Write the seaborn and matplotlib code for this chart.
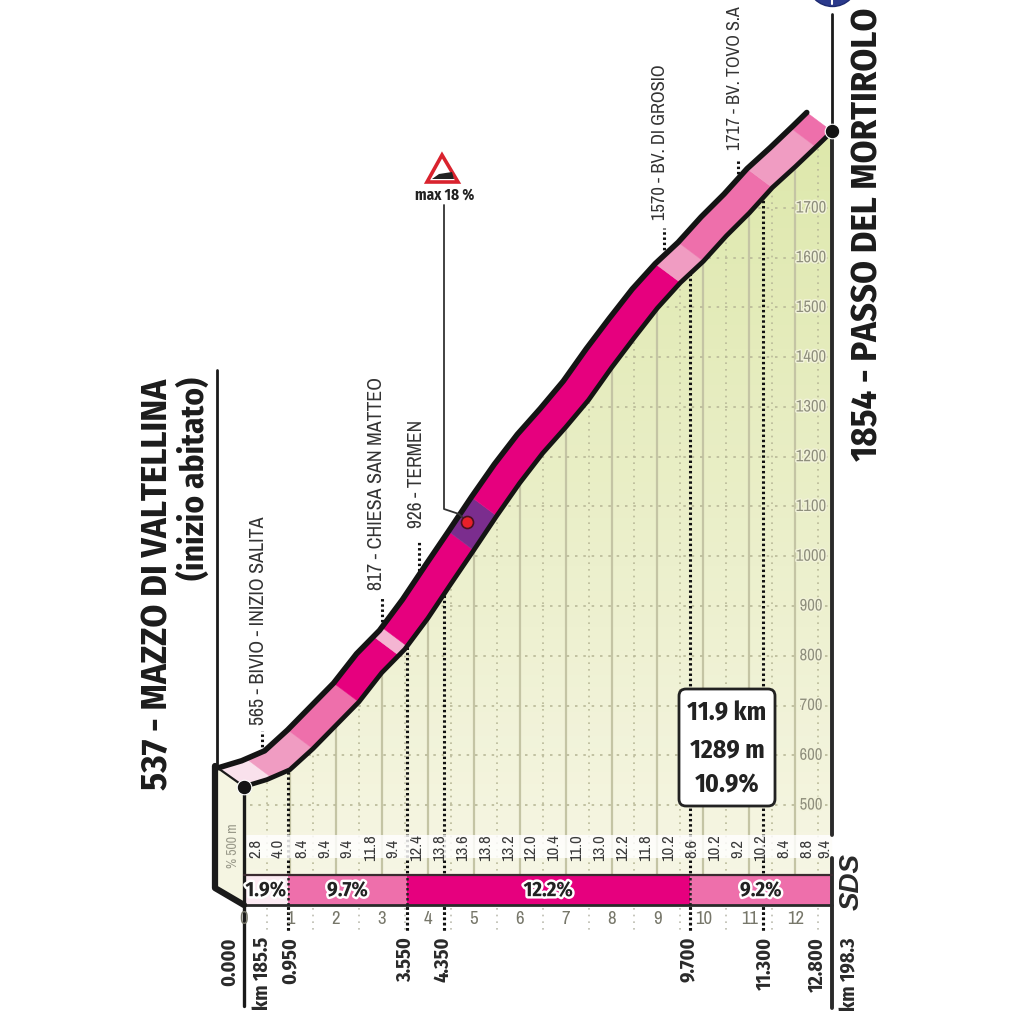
import numpy as np
import pandas as pd
import seaborn as sns
import matplotlib.pyplot as plt
import matplotlib.patheffects as pe
from matplotlib.patches import FancyBboxPatch, Polygon

# profile (km, m)
km = [0, 0.5, 1.0, 1.5, 2.0, 2.5, 3.0, 3.5, 4.0, 4.5, 5.0, 5.5, 6.0, 6.5,
      7.0, 7.5, 8.0, 8.5, 9.0, 9.5, 10.0, 10.5, 11.0, 11.5, 12.0, 12.5, 12.8]
elev = [537, 551, 571, 613, 660, 707, 766, 813, 875, 944, 1012, 1081, 1147, 1207,
        1259, 1314, 1379, 1440, 1499, 1550, 1593, 1644, 1690, 1741, 1783, 1827, 1854]
pct = [2.8, 4.0, 8.4, 9.4, 9.4, 11.8, 9.4, 12.4, 13.8, 13.6, 13.8, 13.2, 12.0,
       10.4, 11.0, 13.0, 12.2, 11.8, 10.2, 8.6, 10.2, 9.2, 10.2, 8.4, 8.8, 9.4]

# ribbon bands
band_start = [0, 0.6, 1.5, 2.5, 3.37, 3.55, 5.0, 5.5, 9.5, 10.0, 11.5, 12.45]
band_end = [0.6, 1.5, 2.5, 3.37, 3.55, 5.0, 5.5, 9.5, 10.0, 11.5, 12.45, 12.8]
band_color = ['#F9E1EC', '#F09CC2', '#EE6FAB', '#E6007E', '#F4B5D2', '#E6007E',
              '#7B2D8E', '#E6007E', '#F09CC2', '#EE6FAB', '#F09CC2', '#EE6FAB']

# gradient bar under the profile
sec_start = [0, 0.95, 3.55, 9.7]
sec_end = [0.95, 3.55, 9.7, 12.8]
sec_label = ['1.9%', '9.7%', '12.2%', '9.2%']
sec_color = ['#FBEAF2', '#EE6FAB', '#E6007E', '#EE6FAB']

# points of interest
poi_km = [0.95, 3.55, 4.35, 9.7, 11.3]
poi_name = ['565 - BIVIO - INIZIO SALITA', '817 - CHIESA SAN MATTEO', '926 - TERMEN',
            '1570 - BV. DI GROSIO', '1717 - BV. TOVO S.A']

grid_elev = list(range(500, 1800, 100))
km_ticks = list(range(0, 13))

NARROW = ['Archivo Narrow', 'Roboto Condensed', 'Liberation Sans']
BOLD = ['Fira Sans Condensed', 'Liberation Sans']
X0, PX_KM = 244, 45.94
Y500, PX_M = 805, 0.4975
DX, DE = -0.55, 38  # offset of the upper ribbon edge


def km_of(px):
    return (px - X0) / PX_KM


def el_of(py):
    return 500 + (Y500 - py) / PX_M


sns.set_theme(style='white')
plt.rcParams['font.family'] = NARROW

km = np.array(km, dtype=float)
elev = np.array(elev, dtype=float)
profile = pd.DataFrame({'km': km, 'elev': elev})
upper = pd.DataFrame({'km': km + DX, 'elev': elev + DE})

fig = plt.figure(figsize=(10.24, 10.24), dpi=100)
ax = fig.add_axes([0, 0, 1, 1])
ax.set_xlim(km_of(0), km_of(1024))
ax.set_ylim(el_of(1024), el_of(0))
ax.axis('off')

bar_top, bar_bot = el_of(875), el_of(905)

# ground under the profile, paler towards the valley
ground = Polygon(np.c_[np.r_[km, 12.8, 0], np.r_[elev, bar_bot, bar_bot]],
                 closed=True, fc='none', ec='none', transform=ax.transData)
ax.add_patch(ground)
grad = np.linspace(0, 1, 64).reshape(-1, 1)
low, high = np.array([247, 246, 230]) / 255, np.array([222, 232, 172]) / 255
img = ax.imshow(low + (high - low) * grad[..., None], origin='lower', aspect='auto',
                extent=(0, 12.8, el_of(905), 1854), zorder=1)
img.set_clip_path(ground)
ax.set_xlim(km_of(0), km_of(1024))
ax.set_ylim(el_of(1024), el_of(0))

# side of the block on the left
ax.fill([km_of(215), 0, 0, km_of(215)], [el_of(766), 537, bar_bot, el_of(888)],
        color='#F5F5E2', zorder=1)
ax.plot([km_of(215), km_of(215), 0], [el_of(766), el_of(888), bar_bot],
        color='#1a1a1a', lw=4.5, zorder=6, solid_capstyle='round')

# grid, clipped to the ground
for k in np.arange(0.5, 12.8, 0.5):
    if k == int(k):
        ln = ax.axvline(k, color='#C4C4A4', lw=1.6, zorder=2)
    else:
        ln = ax.axvline(k, color='#B9B998', lw=1.2, ls=(0, (1, 3)), zorder=2)
    ln.set_clip_path(ground)
for g in grid_elev:
    ln = ax.axhline(g, color='#B9B998', lw=1.2, ls=(0, (1.5, 3.5)), zorder=2)
    ln.set_clip_path(ground)
    ax.text(km_of(811), g, str(g), color='#8E8E7C', fontsize=12, ha='center', va='center',
            zorder=3, path_effects=[pe.withStroke(linewidth=2, foreground='#F2F3DA')])

# station dotted lines
dots = dict(color='#111111', lw=2.2, ls=(0, (0.8, 0.9)), zorder=3)
for k in poi_km:
    ax.plot([k, k], [el_of(930), np.interp(k, km, elev)], **dots)
for k, top_px in zip(poi_km, [731, 598, 540, 228, 160]):
    ax.plot([k + DX] * 2, [np.interp(k, km, elev) + DE, el_of(top_px)], **dots)

# ribbon
for a, b, c in zip(band_start, band_end, band_color):
    xs = np.r_[a, km[(km > a) & (km < b)], b]
    ys = np.interp(xs, km, elev)
    ax.fill(np.r_[xs, (xs + DX)[::-1]], np.r_[ys, (ys + DE)[::-1]], color=c, lw=0.3, zorder=4)
sns.lineplot(data=profile, x='km', y='elev', sort=False, estimator=None, color='#141414',
             lw=3.4, ax=ax, zorder=5)
sns.lineplot(data=upper, x='km', y='elev', sort=False, estimator=None,
             color='#141414', lw=4, ax=ax, zorder=5)
ax.plot([km_of(215), 0], [el_of(766), 537], color='#1a1a1a', lw=1.6, zorder=5)
ax.set_xlabel('')
ax.set_ylabel('')

# axis uprights
ax.plot([0, 0], [537, el_of(1006)], color='#1a1a1a', lw=2.4, zorder=5)
ax.plot([12.8, 12.8], [el_of(1008), el_of(858)], color='#2a2a2a', lw=2.8, zorder=5)
ax.plot([12.8, 12.8], [el_of(835), 1854], color='#2a2a2a', lw=2.8, zorder=5)
ax.plot([12.8, 12.8], [1854, el_of(14)], color='#1a1a1a', lw=2, zorder=5)
ax.plot([km_of(217), km_of(217)], [el_of(766), el_of(370)], color='#1a1a1a', lw=2, zorder=5)

# white strip with the gradient of each half km
ax.fill_between([0, 12.8], el_of(858), el_of(835), color='white', alpha=0.82, lw=0, zorder=4)
pct_pos = np.r_[np.arange(0.25, 12.5, 0.5), 12.65]
for k, p in zip(pct_pos, pct):
    ax.text(k, el_of(848), f'{p:.1f}', rotation=90, ha='center', va='center',
            fontsize=12, color='#3a3a3a', zorder=6)

# section bar
for a, b, c, lab in zip(sec_start, sec_end, sec_color, sec_label):
    ax.fill_between([a, b], bar_bot, bar_top, color=c, lw=0, zorder=4)
    ax.text((a + b) / 2, el_of(890), lab, ha='center', va='center', fontsize=15,
            family=BOLD, fontweight='bold', color='#222222', zorder=7,
            path_effects=[pe.withStroke(linewidth=3.5, foreground='white')])
ax.plot([0, 12.8], [bar_top, bar_top], color='#3a2a30', lw=1.6, zorder=5)
ax.plot([0, 12.8], [bar_bot, bar_bot], color='#2a2a2a', lw=2, zorder=5)
for k in [0.95, 3.55, 9.7]:
    ax.plot([k, k], [bar_bot, bar_top], color='#222222', lw=1.8, ls=(0, (1, 1)), zorder=5)
for k in poi_km:
    ax.plot([k, k], [el_of(930), bar_bot], **dots)

# km ticks
for k in km_ticks:
    ax.text(k, el_of(919), str(k), ha='center', va='center', fontsize=13.5,
            color='#77776a', zorder=6)
for k in np.arange(0.5, 12.8, 1.0):
    ax.plot([k, k], [el_of(908), el_of(930)], color='#bcbcb0', lw=1.2, ls=(0, (1, 3)), zorder=2)

# start and finish
sns.scatterplot(x=[0, 12.8], y=[537, 1854], s=110, color='#141414', edgecolor='white',
                lw=0.8, ax=ax, zorder=8)
ax.set_xlabel('')
ax.set_ylabel('')

# overlay in picture coordinates for the captions
ov = fig.add_axes([0, 0, 1, 1], facecolor='none')
ov.set_xlim(0, 1024)
ov.set_ylim(1024, 0)
ov.axis('off')

ov.text(157, 790, '537 - MAZZO DI VALTELLINA', rotation=90, ha='center', va='bottom',
        fontsize=26.5, family=BOLD, fontweight='bold', color='#1c1c1c')
ov.text(194, 580, '(inizio abitato)', rotation=90, ha='center', va='bottom',
        fontsize=24, family=BOLD, fontweight='bold', color='#1c1c1c')
ov.text(868, 461, '1854 - PASSO DEL MORTIROLO', rotation=90, ha='center', va='bottom',
        fontsize=26.3, family=BOLD, fontweight='bold', color='#1c1c1c')
ov.text(233, 846, '% 500 m', rotation=90, ha='center', va='center', fontsize=10, color='#9a9a8a')

for x, bottom, name, fs in zip([258, 377, 416, 660, 735], [725, 590, 528, 220, 150], poi_name,
                               [14.4, 14.3, 14, 13.3, 13]):
    ov.text(x, bottom, name, rotation=90, ha='center', va='bottom', fontsize=fs, color='#333333')

for x, t in zip([290, 405, 443, 688, 765, 817, 230, 262, 850],
                ['0.950', '3.550', '4.350', '9.700', '11.300', '12.800', '0.000', 'km 185.5', 'km 198.3']):
    ov.text(x, 937, t, rotation=90, ha='center', va='top', fontsize=14.5, family=BOLD,
            fontweight='bold', color='#2a2a2a')
ov.text(852, 881, 'SDS', rotation=90, ha='center', va='center', fontsize=20, fontweight='bold',
        style='italic', family='Liberation Sans', color='#2a2a2a')

# summary box
ov.add_patch(FancyBboxPatch((679, 689), 96, 117, boxstyle='round,pad=0,rounding_size=7',
                            fc='white', ec='#222222', lw=2, zorder=6))
for y, t in zip([713, 750, 785], ['11.9 km', '1289 m', '10.9%']):
    ov.text(727, y, t, ha='center', va='center', fontsize=18.5, family=BOLD, fontweight='bold',
            color='#222222', zorder=7)

# max gradient sign
ov.add_patch(Polygon([(442, 155), (427, 182), (458, 182)], closed=True, fc='white',
                     ec='#D9232E', lw=2.6, zorder=6))
ov.add_patch(Polygon([(432, 179), (454, 179), (452, 172), (439, 174)], closed=True,
                     fc='#222222', ec='none', zorder=7))
ov.text(445, 195, 'max 18 %', ha='center', va='center', fontsize=11, family=BOLD, fontweight='bold',
        color='#222222')
ov.plot([444, 444, 459, 467], [205, 509, 514, 522], color='#333333', lw=1.3, zorder=6)
ov.scatter([467], [522], s=75, color='#E8202A', edgecolor='#4a1020', lw=1.2, zorder=7)

# blue marker cut by the top border
ov.scatter([832], [-19], s=1296, color='#2B3A8C', edgecolor='#1c2a70', zorder=6)
ov.plot([832, 832], [0, 4], color='white', lw=1.5, zorder=7)

fig.savefig('out.png', dpi=100)
